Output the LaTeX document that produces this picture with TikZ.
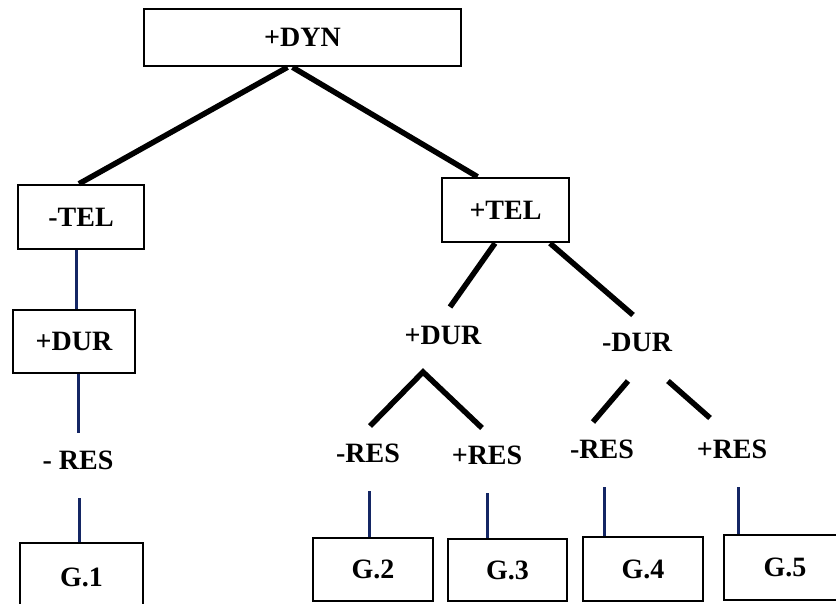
\documentclass[tikz,border=0pt]{standalone}
\usepackage{fontspec}
\setmainfont{Liberation Serif}
\definecolor{navy}{RGB}{20,38,100}

\begin{document}
\begin{tikzpicture}[x=1pt,y=-1pt,
    every node/.style={font=\bfseries\fontsize{28}{32}\selectfont},
    feat/.style={draw,line width=2.5pt,inner sep=0pt},
    branch/.style={line width=5.5pt},
    stem/.style={line width=3pt,color=navy}]
    % Frame
    \useasboundingbox (0,0) rectangle (836,603);
    \clip (0,0) rectangle (836,603);
    % Boxes
    \node[feat,minimum width=317pt,minimum height=57pt] (dyn) at (302.5,37.5) {+DYN};
    \node[feat,minimum width=126pt,minimum height=64pt] (mtel) at (81,217) {-TEL};
    \node[feat,minimum width=122pt,minimum height=63pt] (pdura) at (74,341.5) {+DUR};
    \node[feat,minimum width=127pt,minimum height=64pt] (ptel) at (505.5,210) {+TEL};
    \node[feat,minimum width=123pt,minimum height=68pt] (g1) at (81.5,577) {G.1};
    \node[feat,minimum width=120pt,minimum height=63pt] (g2) at (373,569.5) {G.2};
    \node[feat,minimum width=119pt,minimum height=62pt] (g3) at (507.5,570) {G.3};
    \node[feat,minimum width=120pt,minimum height=64pt] (g4) at (643,569) {G.4};
    \node[feat,minimum width=122pt,minimum height=65pt] (g5) at (785,567.5) {G.5};
    % Free labels
    \node (mresa) at (78,460) {- RES};
    \node (pdurb) at (443,335) {+DUR};
    \node (mdur) at (637,342) {-DUR};
    \node (mresb) at (368,453) {-RES};
    \node (presb) at (487,455) {+RES};
    \node (mresc) at (602,449) {-RES};
    \node (presc) at (732,449) {+RES};
    % Branch ends
    \coordinate (tl) at (450,307);
    \coordinate (tr) at (633,315);
    \coordinate (pdfork) at (423,372);
    \coordinate (pdl) at (370,426);
    \coordinate (pdr) at (482,428);
    \coordinate (mdl0) at (628,381);
    \coordinate (mdl) at (593,422);
    \coordinate (mdr0) at (668,381);
    \coordinate (mdr) at (710,418);
    % Black branches
    \draw[branch] ([xshift=-15pt]dyn.south) -- ([xshift=-2pt]mtel.north);
    \draw[branch] ([xshift=-10pt]dyn.south) -- ([xshift=-28pt]ptel.north);
    \draw[branch] ([xshift=-10.5pt]ptel.south) -- (tl);
    \draw[branch] ([xshift=44.5pt]ptel.south) -- (tr);
    \draw[branch] (pdl) -- (pdfork) -- (pdr);
    \draw[branch] (mdl0) -- (mdl);
    \draw[branch] (mdr0) -- (mdr);
    % Blue stems
    \coordinate (sa) at (78,373);
    \coordinate (sa1) at (78,433);
    \coordinate (sb) at (79,498);
    \coordinate (s2) at (369,491);
    \coordinate (s3) at (487,493);
    \coordinate (s4) at (604,487);
    \coordinate (s5) at (738,487);
    \draw[stem] ([xshift=-5pt]mtel.south) -- ([xshift=2pt]pdura.north);
    \draw[stem] ([xshift=4pt]pdura.south) -- (sa1);
    \draw[stem] (sb) -- (sb |- g1.north);
    \draw[stem] (s2) -- (s2 |- g2.north);
    \draw[stem] (s3) -- (s3 |- g3.north);
    \draw[stem] (s4) -- (s4 |- g4.north);
    \draw[stem] (s5) -- (s5 |- g5.north);
\end{tikzpicture}
\end{document}
